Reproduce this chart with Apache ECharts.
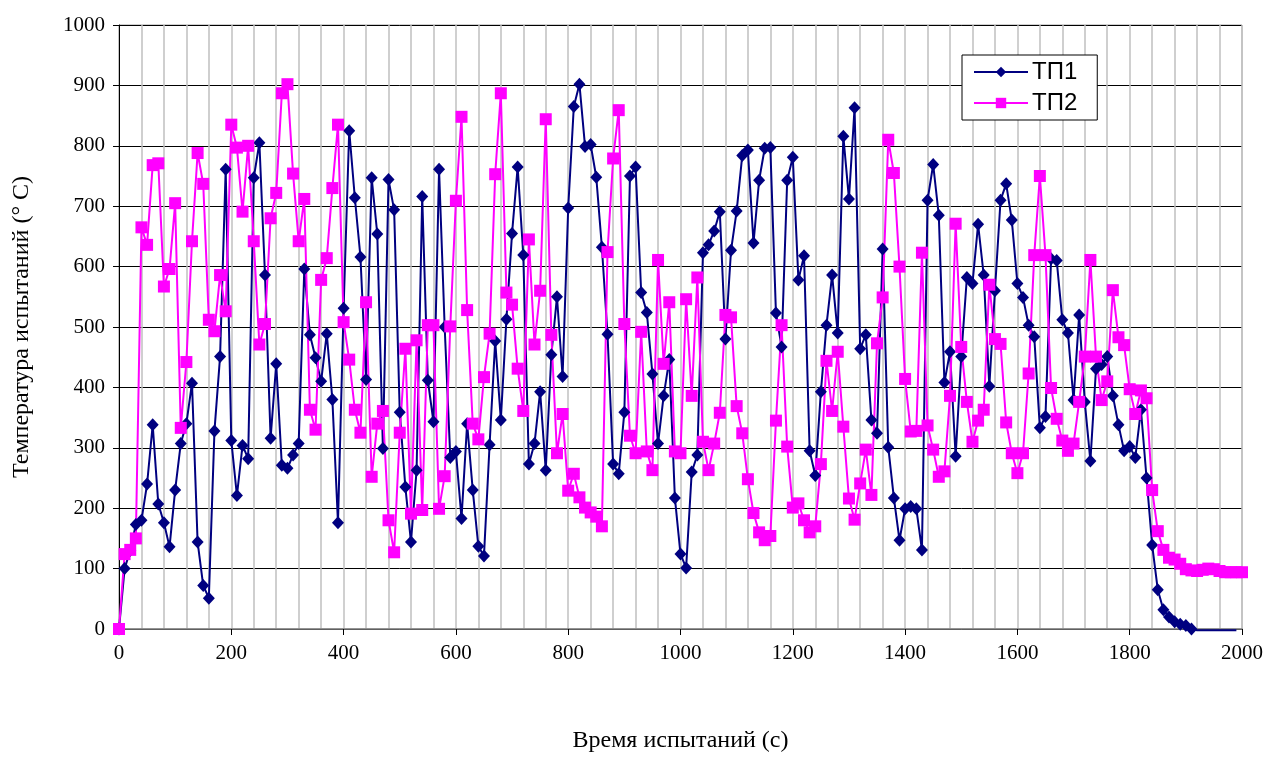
<!DOCTYPE html>
<html>
<head>
<meta charset="utf-8">
<script src="https://cdn.jsdelivr.net/npm/echarts@6/dist/echarts.min.js"></script>
<style>
  html, body { margin: 0; padding: 0; background: #fff; }
  #chart { width: 1272px; height: 758px; }
</style>
</head>
<body>
<div id="chart"></div>
<script>
// время, с (шаг 10 с)
const times = [0,10,20,30,40,50,60,70,80,90,100,110,120,130,140,150,160,170,180,190,
  200,210,220,230,240,250,260,270,280,290,300,310,320,330,340,350,360,370,380,390,
  400,410,420,430,440,450,460,470,480,490,500,510,520,530,540,550,560,570,580,590,
  600,610,620,630,640,650,660,670,680,690,700,710,720,730,740,750,760,770,780,790,
  800,810,820,830,840,850,860,870,880,890,900,910,920,930,940,950,960,970,980,990,
  1000,1010,1020,1030,1040,1050,1060,1070,1080,1090,1100,1110,1120,1130,1140,1150,1160,1170,1180,1190,
  1200,1210,1220,1230,1240,1250,1260,1270,1280,1290,1300,1310,1320,1330,1340,1350,1360,1370,1380,1390,
  1400,1410,1420,1430,1440,1450,1460,1470,1480,1490,1500,1510,1520,1530,1540,1550,1560,1570,1580,1590,
  1600,1610,1620,1630,1640,1650,1660,1670,1680,1690,1700,1710,1720,1730,1740,1750,1760,1770,1780,1790,
  1800,1810,1820,1830,1840,1850,1860,1870,1880,1890,1900,1910,1920,1930,1940,1950,1960,1970,1980,1990,
  2000]

// ТП1 (0 ... 1990 с)
const tp1 = [0,100,130,173,180,240,338,207,176,136,230,307,340,407,144,72,51,328,451,761,
  312,221,304,282,747,805,586,316,439,271,266,288,307,596,487,449,410,489,380,176,
  531,825,714,616,413,747,654,299,744,694,359,235,144,263,716,412,343,761,500,284,
  294,183,340,230,137,121,305,477,346,513,655,765,619,273,307,393,263,454,550,418,
  697,865,902,799,802,748,632,488,273,257,359,750,765,557,524,422,307,386,446,217,
  124,101,260,288,623,636,659,691,480,627,692,784,793,639,743,796,797,523,467,743,
  781,578,618,295,254,393,503,586,490,816,712,863,464,487,346,324,629,301,217,147,
  199,203,199,131,710,769,685,408,459,286,451,582,572,670,586,402,560,710,737,677,
  572,549,503,484,333,352,613,610,512,490,379,520,376,278,431,438,451,386,338,295,
  302,284,363,250,139,65,32,20,12,8,6,0,-2,-2,-2,-2,-2,-2,-2,-2]

// ТП2 (0 ... 2000 с)
const tp2 = [0,124,131,150,665,636,768,771,567,596,705,333,442,642,788,737,512,493,586,526,
  835,797,691,800,642,471,505,680,722,887,902,754,642,712,363,330,578,614,730,835,
  508,446,363,325,541,252,340,361,180,127,325,464,191,478,197,503,503,199,253,501,
  709,848,528,340,314,417,489,753,887,557,537,431,361,645,471,560,844,487,291,356,
  229,257,218,201,193,186,170,624,779,859,505,320,291,492,294,263,611,439,541,294,
  291,546,386,582,310,263,307,358,520,516,369,324,248,192,160,147,154,345,503,302,
  201,208,180,160,170,273,444,361,459,335,216,181,241,297,222,473,549,810,755,600,
  414,327,328,623,337,297,252,261,386,671,467,376,310,345,363,570,480,472,342,291,
  258,291,423,619,750,619,399,348,312,295,307,376,451,611,451,379,410,561,483,470,
  397,356,395,382,230,162,131,118,115,108,99,97,96,98,100,99,96,94,94,94,
  94]

const seriesNames = ['ТП1', 'ТП2']
const yTicks = [0,100,200,300,400,500,600,700,800,900,1000]
const xTicks = [0,200,400,600,800,1000,1200,1400,1600,1800,2000]

// пары [время, значение]; точки ниже нуля рисуем без маркера (в Excel их обрезает)
function pairs(vals) {
  let out = []
  for (let i = 0; i < vals.length; i++) {
    if (vals[i] < 0) {
      out.push({ value: [times[i], vals[i]], symbol: 'none' })
    } else {
      out.push([times[i], vals[i]])
    }
  }
  return out
}

const serif = 'Liberation Serif'
let chart = echarts.init(document.getElementById('chart'))

const option = {
  animation: false,
  backgroundColor: '#fff',
  grid: {
    left: 119,
    right: 30,
    top: 25,
    bottom: 123,
    show: true,
    borderColor: '#a0a0a0',
    borderWidth: 1
  },
  legend: {
    orient: 'vertical',
    left: 962,
    top: 55,
    padding: [5, 20, 5, 11],
    itemGap: 7,
    itemWidth: 54,
    itemHeight: 13,
    backgroundColor: '#fff',
    borderColor: '#000',
    borderWidth: 1,
    textStyle: { fontFamily: 'Liberation Sans', fontSize: 24, color: '#000', padding: [0, 0, 0, -1] },
    data: seriesNames
  },
  xAxis: {
    type: 'value',
    min: xTicks[0],
    max: xTicks[xTicks.length - 1],
    interval: 200,
    name: 'Время испытаний (с)',
    nameLocation: 'middle',
    nameGap: 100,
    nameTextStyle: { fontFamily: serif, fontSize: 24, color: '#000' },
    axisLine: { lineStyle: { color: '#808080', width: 1.5 } },
    axisTick: { show: true, length: 6, lineStyle: { color: '#000' } },
    axisLabel: { fontFamily: serif, fontSize: 21, color: '#000', margin: 14, formatter: v => String(v) },
    splitLine: { show: true, lineStyle: { color: '#c0c0c0', width: 1.5 } },
    minorTick: { show: false, splitNumber: 5 },
    minorSplitLine: { show: true, lineStyle: { color: '#c0c0c0', width: 1.5 } }
  },
  yAxis: {
    type: 'value',
    min: yTicks[0],
    max: yTicks[yTicks.length - 1],
    interval: 100,
    name: 'Температура испытаний (° С)',
    nameLocation: 'middle',
    nameGap: 85,
    nameRotate: 90,
    nameTextStyle: { fontFamily: serif, fontSize: 24, color: '#000' },
    axisLine: { show: true, lineStyle: { color: '#000', width: 1 } },
    axisTick: { show: true, length: 6, lineStyle: { color: '#000' } },
    axisLabel: { fontFamily: serif, fontSize: 21, color: '#000', margin: 14, formatter: v => String(v) },
    splitLine: { show: true, lineStyle: { color: '#000', width: 1 } }
  },
  series: [
    {
      name: seriesNames[0],
      type: 'line',
      data: pairs(tp1),
      clip: false,
      color: '#000080',
      lineStyle: { width: 2, color: '#000080' },
      symbol: 'diamond',
      symbolSize: [12, 13],
      itemStyle: { color: '#000080' }
    },
    {
      name: seriesNames[1],
      type: 'line',
      data: pairs(tp2),
      clip: false,
      color: '#ff00ff',
      lineStyle: { width: 2, color: '#ff00ff' },
      symbol: 'rect',
      symbolSize: 12,
      itemStyle: { color: '#ff00ff' }
    }
  ]
}
chart.setOption(option)
</script>
</body>
</html>
